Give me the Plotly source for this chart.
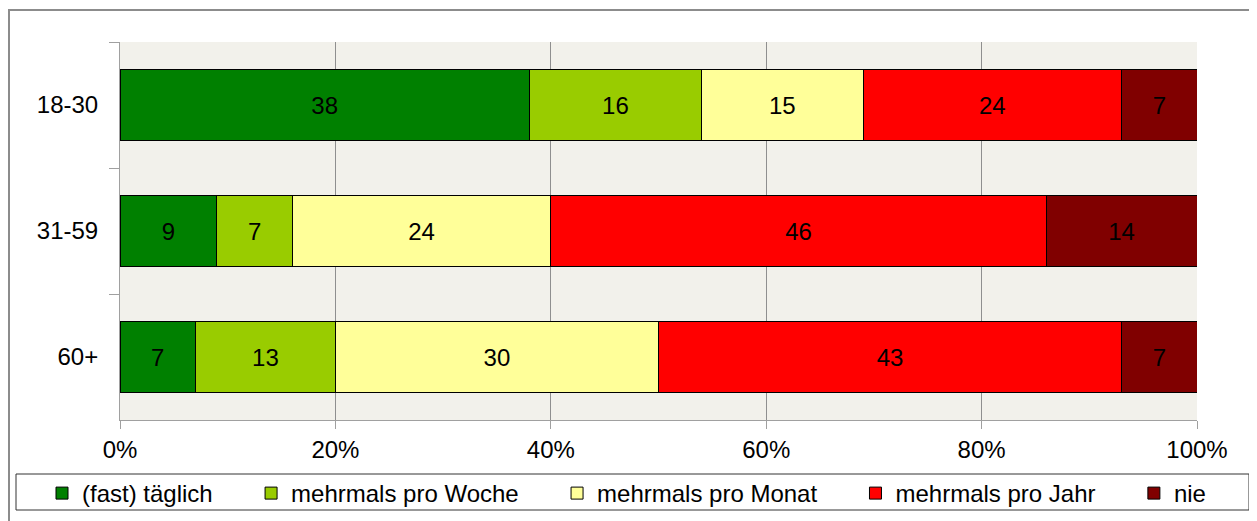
"""Gestapelte 100%-Balken: Häufigkeit nach Altersgruppe."""
import plotly.graph_objects as go

AGE_GROUPS = ["18-30", "31-59", "60+"]
SERIES = ["(fast) täglich", "mehrmals pro Woche", "mehrmals pro Monat", "mehrmals pro Jahr", "nie"]
VALUES = [
    [38, 9, 7],
    [16, 7, 13],
    [15, 24, 30],
    [24, 46, 43],
    [7, 14, 7],
]
COLORS = ["#008000", "#99CC00", "#FFFF99", "#FF0000", "#800000"]
X_TICKS = [0, 0.2, 0.4, 0.6, 0.8, 1.0]

# Seite hat 8px body-margin -> alles in Seitenpixeln rechnen
OFF = 8
W, H = 1257 - OFF, 521 - OFF
PL, PR, PT, PB = 120, 1197, 42, 420  # Plotfläche in Seitenpixeln
L, T = PL - OFF, PT - OFF
R, B = W - (PR - OFF), H - (PB - OFF)
PW, PH = PR - PL, PB - PT


def px_x(p):
    return (p - PL) / PW


def px_y(p):
    return (PB - p) / PH


FONT = "Liberation Sans, Arial, sans-serif"
FS = 24
PAD = "\u00a0" * 5

fig = go.Figure()
for i, (name, vals, color) in enumerate(zip(SERIES, VALUES, COLORS)):
    total = [sum(VALUES[k][j] for k in range(len(SERIES))) for j in range(len(AGE_GROUPS))]
    fig.add_trace(go.Bar(
        y=AGE_GROUPS,
        x=[v / t for v, t in zip(vals, total)],
        name=name + (PAD if i < len(SERIES) - 1 else ""),
        orientation="h",
        marker=dict(color=color, line=dict(color="black", width=1)),
        text=[str(v) for v in vals],
        textposition="inside",
        insidetextanchor="middle",
        textfont=dict(color="black", size=FS, family=FONT),
        hoverinfo="skip",
    ))

fig.update_layout(
    barmode="stack",
    bargap=0.43,
    width=W, height=H,
    margin=dict(l=L, r=R, t=T, b=B, autoexpand=False),
    paper_bgcolor="white",
    plot_bgcolor="#F2F1EB",
    font=dict(family=FONT, size=FS, color="black"),
    uniformtext=dict(minsize=FS, mode="show"),
    legend=dict(
        orientation="h",
        x=px_x(42), xanchor="left",
        y=px_y(471), yanchor="top",
        borderwidth=0,
        bgcolor="rgba(0,0,0,0)",
        font=dict(size=FS, family=FONT),
        traceorder="normal",
    ),
    shapes=[
        dict(type="rect", xref="paper", yref="paper",
             x0=px_x(9), x1=px_x(1251), y0=px_y(600), y1=px_y(10),
             line=dict(color="#8C8C8C", width=2), layer="below"),
        dict(type="rect", xref="paper", yref="paper",
             x0=px_x(16), x1=px_x(1249), y0=px_y(510), y1=px_y(474),
             line=dict(color="#333333", width=1), layer="below"),
    ],
)
fig.update_xaxes(
    range=[0, 1],
    tickvals=X_TICKS,
    tickformat=".0%",
    showgrid=True, gridcolor="#8F8F8F", gridwidth=1,
    showline=True, linecolor="#A0A0A0", linewidth=1,
    ticks="outside", ticklen=8, tickcolor="#A0A0A0",
    ticklabelstandoff=0,
    zeroline=False,
)
fig.update_yaxes(
    autorange="reversed",
    showline=True, linecolor="#A0A0A0", linewidth=1,
    ticks="outside", ticklen=10, tickcolor="#A0A0A0",
    tickson="boundaries",
    ticklabelstandoff=16,
    showgrid=False,
)

fig.write_html("out.html")
